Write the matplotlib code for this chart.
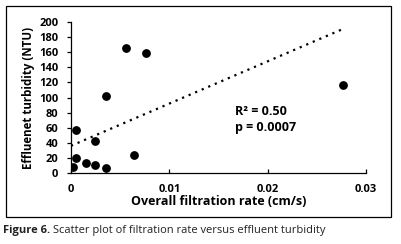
import matplotlib
matplotlib.use("Agg")
import matplotlib.pyplot as plt
from matplotlib.patches import Rectangle

# filtration rate (cm/s) vs effluent turbidity (NTU)
rate = [0.00017, 0.0005, 0.0005, 0.0015, 0.0024, 0.0024,
        0.0036, 0.0036, 0.0056, 0.0076, 0.0064, 0.0277]
turbidity = [8, 20, 57, 13, 10, 42, 7, 102, 165, 159, 24, 117]

# dotted trend line end points
trend_x = [0.0, 0.0277]
trend_y = [36, 191]

xticks = [0, 0.01, 0.02, 0.03]
xtick_labels = ["0", "0.01", "0.02", "0.03"]
yticks = [0, 20, 40, 60, 80, 100, 120, 140, 160, 180, 200]

plt.rcParams['font.family'] = ['Open Sans', 'DejaVu Sans']

W, H = 402, 244
fig = plt.figure(figsize=(W / 100, H / 100), dpi=100)

# outer frame around the chart
fig.patches.append(Rectangle((6 / W, 1 - 217 / H), 385 / W, 211 / H,
                             transform=fig.transFigure, fill=False,
                             edgecolor='black', linewidth=0.9))

ax = fig.add_axes([71 / W, 1 - 173 / H, (366 - 71) / W, (173 - 22) / H])
ax.scatter(rate, turbidity, s=28, color='black', zorder=3)
ax.plot(trend_x, trend_y, color='black', linestyle=(0, (1, 2.2)), linewidth=1.6)

ax.set_xlim(0, 0.03)
ax.set_ylim(0, 200)
ax.set_xticks(xticks)
ax.set_xticklabels(xtick_labels)
ax.set_yticks(yticks)
for s in ['top', 'right']:
    ax.spines[s].set_visible(False)
ax.spines['left'].set_linewidth(0.9)
ax.spines['bottom'].set_linewidth(0.9)
ax.tick_params(axis='x', direction='in', length=3, width=0.9, pad=8, labelsize=8)
ax.tick_params(axis='y', direction='out', length=3, width=0.9, pad=6, labelsize=8)
for lab in ax.get_xticklabels() + ax.get_yticklabels():
    lab.set_fontweight('bold')

ax.set_xlabel("Overall filtration rate (cm/s)", fontsize=9, fontweight='bold', labelpad=0)
ax.set_ylabel("Effluenet turbidity (NTU)", fontsize=8.3, fontweight='bold', labelpad=3)

ax.text(0.0167, 82, "R² = 0.50", fontsize=9, fontweight='bold', va='center')
ax.text(0.0167, 60, "p = 0.0007", fontsize=9, fontweight='bold', va='center')

t1 = fig.text(3 / W, 1 - 231 / H, "Figure 6.", fontsize=8, fontweight='bold',
              va='center', color='#222222')
fig.canvas.draw()
bb = t1.get_window_extent()
fig.text((bb.x1 + 3) / W, 1 - 231 / H,
         "Scatter plot of filtration rate versus effluent turbidity",
         fontsize=8, va='center', color='#222222')

fig.savefig("out.png", dpi=100)
